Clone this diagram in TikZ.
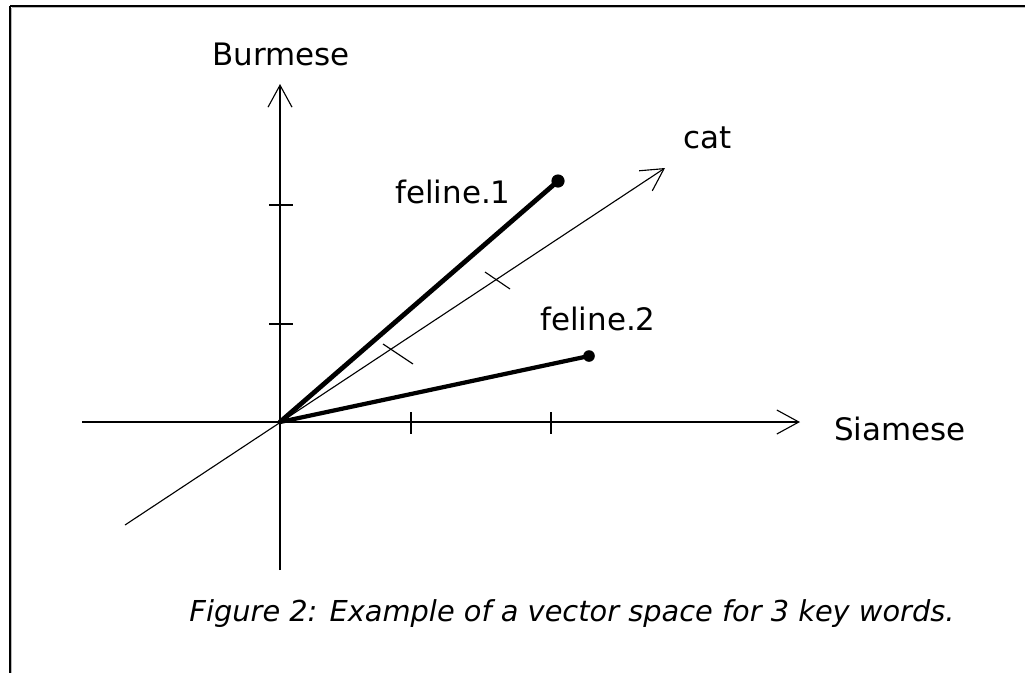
\documentclass[tikz,border=0pt]{standalone}
\usepackage{fontspec}
\setmainfont{DejaVu Sans}
\usepackage{tikz}
\usetikzlibrary{arrows.meta}

\begin{document}
\begin{tikzpicture}[x=0.025cm, y=-0.025cm,
  axis/.style={line width=1.5pt, -{Straight Barb[length=0.55cm, width=0.6cm, line width=0.8pt]}},
  catvec/.style={line width=0.8pt, -{Straight Barb[length=0.55cm, width=0.6cm]}},
  wordvec/.style={line width=3.4pt, line cap=round},
  endpt/.style={circle, fill, inner sep=0pt},
  lbl/.style={font=\fontsize{22}{26}\selectfont, inner sep=0pt, anchor=base},
  tickmark/.style={line width=1.5pt}]
  \useasboundingbox (0,0) rectangle (1025,673);

  % Frame (top and left only)
  \draw[line width=1.4pt, gray!55] (11.5,7.5) -- (1025,7.5);
  \draw[line width=1.4pt, gray!55] (11.5,7.5) -- (11.5,673);
  \draw[line width=2pt] (10,6) -- (1025,6);
  \draw[line width=2pt] (10,6) -- (10,673);

  % Axes
  \coordinate (O) at (280,422);
  \coordinate (xstart) at (82,422);
  \coordinate (ystart) at (280,570);
  \node[lbl] (siamese) at (900,440) {Siamese};
  \node[lbl] (burmese) at (281,65) {Burmese};
  \coordinate (xend) at (800,422);
  \coordinate (yend) at (280,84);
  \draw[axis] (xstart) -- (xend);
  \draw[axis] (ystart) -- (yend);

  % Axis ticks
  \draw[tickmark] (411,412) -- (411,434);
  \draw[tickmark] (551,412) -- (551,434);
  \draw[tickmark] (269,324) -- (293,324);
  \draw[tickmark] (269,205) -- (293,205);

  % cat vector with its ticks
  \coordinate (catstart) at (125,525);
  \coordinate (catend) at (665,168);
  \node[lbl] (cat) at (708,148) {cat};
  \draw[catvec] (catstart) -- (catend);
  \draw[line width=0.8pt] (383,344) -- (413,364);
  \draw[line width=0.8pt] (485,272) -- (510,289);

  % feline.1
  \node[endpt, minimum size=0.33cm] (f1) at (558,181) {};
  \node[lbl] (f1label) at (453,203) {feline.1};
  \draw[wordvec] (O) -- (f1.center);

  % feline.2
  \node[endpt, minimum size=0.29cm] (f2) at (589,356) {};
  \node[lbl] (f2label) at (598,330) {feline.2};
  \draw[wordvec, line width=3pt] (O) -- (f2.center);

  % Caption
  \node[lbl, font=\fontsize{20.5}{24}\selectfont\itshape] (caption) at (572,621)
    {Figure 2: Example of a vector space for 3 key words.};
\end{tikzpicture}
\end{document}
